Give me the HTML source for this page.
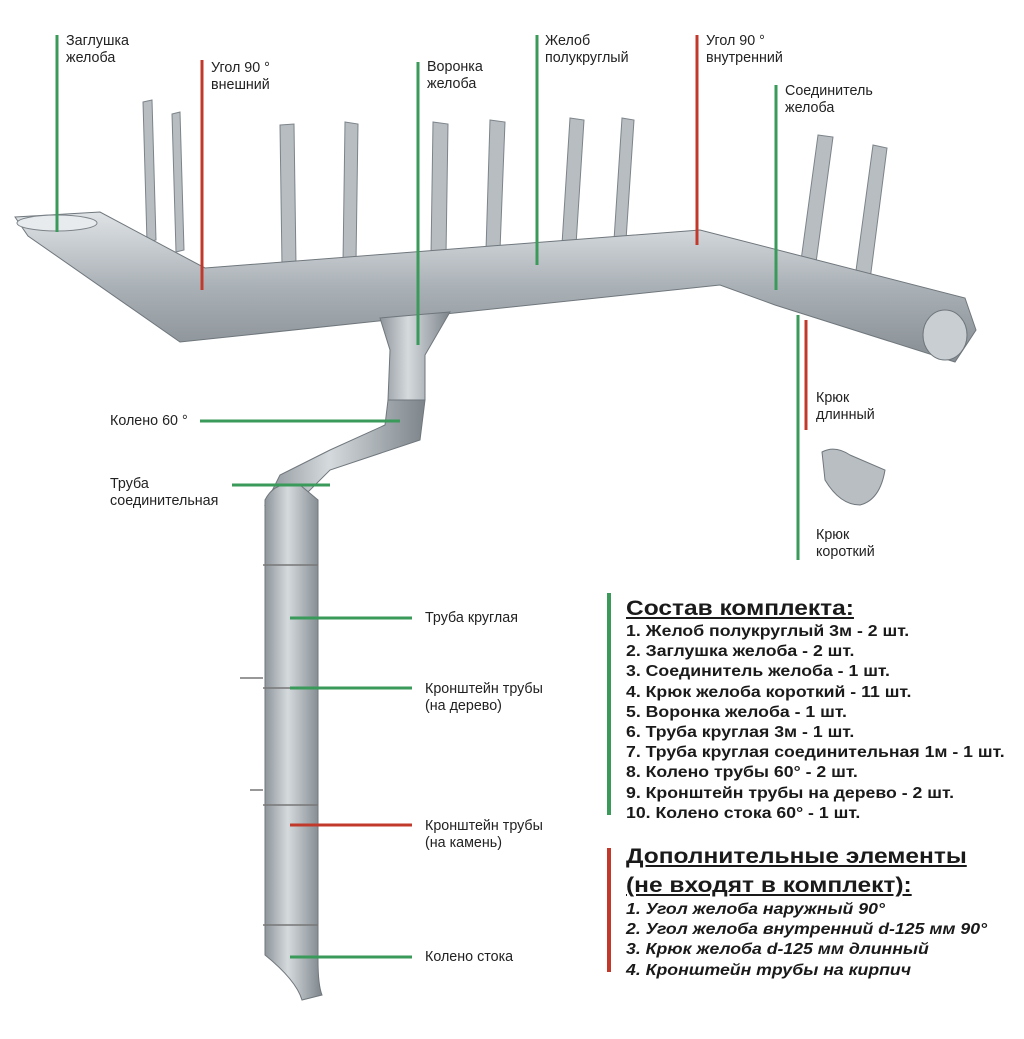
<!DOCTYPE html>
<html><head><meta charset="utf-8"><style>
body{margin:0;background:#fff;width:1024px;height:1039px;overflow:hidden;position:relative;font-family:"Liberation Sans",sans-serif;color:#222}
.t{position:absolute;font-size:14.3px;line-height:17px;color:#222}
.list{position:absolute;left:626px;font-weight:bold;font-size:15.5px;line-height:20.2px;color:#1a1a1a;transform:scaleX(1.14);transform-origin:0 0;white-space:nowrap}
.h{font-size:21.5px;text-decoration:underline;line-height:28px}
</style></head><body>
<svg width="1024" height="1039" style="position:absolute;left:0;top:0">
<defs>
<linearGradient id="g" x1="0" y1="0" x2="0" y2="1"><stop offset="0" stop-color="#dfe3e6"/><stop offset=".5" stop-color="#aab1b6"/><stop offset="1" stop-color="#868d93"/></linearGradient>
<linearGradient id="p" x1="0" y1="0" x2="1" y2="0"><stop offset="0" stop-color="#8e959b"/><stop offset=".4" stop-color="#d5dadd"/><stop offset="1" stop-color="#7d858b"/></linearGradient>
</defs>
<g fill="#b7bdc1" stroke="#7c848a" stroke-width="1">
<polygon points="143,102 152,100 156,240 147,242"/>
<polygon points="172,114 180,112 184,250 176,252"/>
<polygon points="280,125 294,124 296,265 282,266"/>
<polygon points="345,122 358,124 356,262 343,262"/>
<polygon points="433,122 448,124 446,255 431,255"/>
<polygon points="490,120 505,122 500,250 486,250"/>
<polygon points="570,118 584,120 576,245 562,244"/>
<polygon points="622,118 634,120 626,240 614,240"/>
<polygon points="818,135 833,137 815,270 800,268"/>
<polygon points="873,145 887,148 870,280 855,278"/>
</g>
<polygon points="15,217 100,212 205,268 700,230 965,298 976,330 955,362 775,305 720,285 180,342 28,236" fill="url(#g)" stroke="#6f777d"/>
<ellipse cx="57" cy="223" rx="40" ry="8" fill="#e8ebed" stroke="#7c848a"/>
<ellipse cx="945" cy="335" rx="22" ry="25" fill="#c9ced2" stroke="#6f777d"/>
<path d="M380,318 L450,312 L425,355 L425,400 L388,400 L390,350 Z" fill="url(#p)" stroke="#6f777d"/>
<path d="M388,400 L425,400 L420,440 L330,470 L300,500 L265,505 L280,475 L330,450 L385,425 Z" fill="url(#p)" stroke="#6f777d"/>
<path d="M265,500 Q275,480 300,485 L318,500 L318,960 Q318,985 322,995 L302,1000 Q296,980 265,955 Z" fill="url(#p)" stroke="#6f777d"/>
<g stroke="#777" stroke-width="1.5" fill="none">
<path d="M263,565 L318,565 M263,688 L318,688 M263,805 L318,805 M263,925 L318,925 M240,678 L263,678 M250,790 L263,790"/>
</g>
<path d="M822,452 Q835,445 850,455 L885,470 Q880,500 860,505 Q840,505 825,480 Z" fill="#b8bec2" stroke="#6f777d"/>
<g stroke-width="3">
<line x1="57" y1="35" x2="57" y2="232" stroke="#3a9a5a"/>
<line x1="202" y1="60" x2="202" y2="290" stroke="#c0392b"/>
<line x1="418" y1="62" x2="418" y2="345" stroke="#3a9a5a"/>
<line x1="537" y1="35" x2="537" y2="265" stroke="#3a9a5a"/>
<line x1="697" y1="35" x2="697" y2="245" stroke="#c0392b"/>
<line x1="776" y1="85" x2="776" y2="290" stroke="#3a9a5a"/>
<line x1="798" y1="315" x2="798" y2="560" stroke="#3a9a5a"/>
<line x1="806" y1="320" x2="806" y2="430" stroke="#c0392b"/>
<line x1="200" y1="421" x2="400" y2="421" stroke="#3a9a5a"/>
<line x1="232" y1="485" x2="330" y2="485" stroke="#3a9a5a"/>
<line x1="290" y1="618" x2="412" y2="618" stroke="#3a9a5a"/>
<line x1="290" y1="688" x2="412" y2="688" stroke="#3a9a5a"/>
<line x1="290" y1="825" x2="412" y2="825" stroke="#c0392b"/>
<line x1="290" y1="957" x2="412" y2="957" stroke="#3a9a5a"/>
<line x1="609" y1="593" x2="609" y2="815" stroke="#3a9a5a" stroke-width="4"/>
<line x1="609" y1="848" x2="609" y2="972" stroke="#c0392b" stroke-width="4"/>
</g>
</svg>
<div class="t" style="left:66px;top:33px">Заглушка<br>желоба</div>
<div class="t" style="left:211px;top:60px">Угол 90 °<br>внешний</div>
<div class="t" style="left:427px;top:59px">Воронка<br>желоба</div>
<div class="t" style="left:545px;top:33px">Желоб<br>полукруглый</div>
<div class="t" style="left:706px;top:33px">Угол 90 °<br>внутренний</div>
<div class="t" style="left:785px;top:83px">Соединитель<br>желоба</div>
<div class="t" style="left:816px;top:390px">Крюк<br>длинный</div>
<div class="t" style="left:816px;top:527px">Крюк<br>короткий</div>
<div class="t" style="left:110px;top:413px">Колено 60 °</div>
<div class="t" style="left:110px;top:476px">Труба<br>соединительная</div>
<div class="t" style="left:425px;top:610px">Труба круглая</div>
<div class="t" style="left:425px;top:681px">Кронштейн трубы<br>(на дерево)</div>
<div class="t" style="left:425px;top:818px">Кронштейн трубы<br>(на камень)</div>
<div class="t" style="left:425px;top:949px">Колено стока</div>
<div class="list" style="top:594px"><div class="h">Состав комплекта:</div>
1. Желоб полукруглый 3м - 2 шт.<br>2. Заглушка желоба - 2 шт.<br>3. Соединитель желоба - 1 шт.<br>4. Крюк желоба короткий - 11 шт.<br>5. Воронка желоба - 1 шт.<br>6. Труба круглая 3м - 1 шт.<br>7. Труба круглая соединительная 1м - 1 шт.<br>8. Колено трубы 60° - 2 шт.<br>9. Кронштейн трубы на дерево - 2 шт.<br>10. Колено стока 60° - 1 шт.</div>
<div class="list" style="top:842px"><div class="h" style="line-height:29px">Дополнительные элементы<br>(не входят в комплект):</div>
<i>1. Угол желоба наружный 90°<br>2. Угол желоба внутренний d-125 мм 90°<br>3. Крюк желоба d-125 мм длинный<br>4. Кронштейн трубы на кирпич</i></div>
</body></html>
